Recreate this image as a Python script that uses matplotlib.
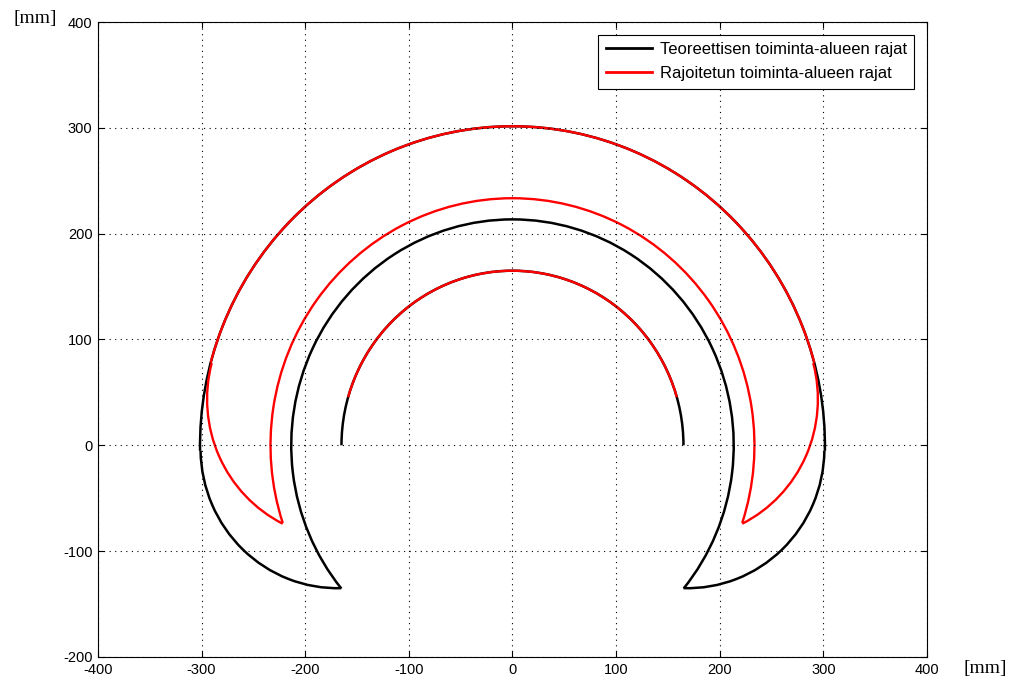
import matplotlib
matplotlib.use('Agg')
import matplotlib.pyplot as plt
from matplotlib.patches import Arc
from matplotlib.lines import Line2D

# arc boundaries: centre x, centre y, radius, start angle, end angle (deg)
black_cx = [0, 0, 0, -169, 169]
black_cy = [0, 0, 0, -3, -3]
black_r = [301.5, 165, 213.5, 132, 132]
black_a1 = [-1, 0, -39.3, 181, 268.3]
black_a2 = [181, 180, 219.3, 271.7, 359]

red_cx = [0, 0, 0, -163.2, 163.2]
red_cy = [0, 0, 0, 43.7, 43.7]
red_r = [301.5, 165, 233.5, 131.5, 131.5]
red_a1 = [15, 16, -18.3, 165, 296.4]
red_a2 = [165, 164, 198.3, 243.6, 375]

labels = ['Teoreettisen toiminta-alueen rajat', 'Rajoitetun toiminta-alueen rajat']
xticks = list(range(-400, 401, 100))
yticks = list(range(-200, 401, 100))

plt.rcParams['font.family'] = ['Liberation Sans', 'DejaVu Sans']
plt.rcParams['axes.unicode_minus'] = False

fig = plt.figure(figsize=(10.12, 6.82), dpi=100)
ax = fig.add_axes([0.0968, 0.0367, 0.8192, 0.931])

for cx, cy, r, a1, a2 in zip(black_cx, black_cy, black_r, black_a1, black_a2):
    ax.add_patch(Arc((cx, cy), 2 * r, 2 * r, theta1=a1, theta2=a2, color='black', lw=1.8))
for cx, cy, r, a1, a2 in zip(red_cx, red_cy, red_r, red_a1, red_a2):
    ax.add_patch(Arc((cx, cy), 2 * r, 2 * r, theta1=a1, theta2=a2, color='red', lw=1.7))

ax.set_xlim(-400, 400)
ax.set_ylim(-200, 400)
ax.set_xticks(xticks)
ax.set_yticks(yticks)
ax.tick_params(direction='in', top=True, right=True, length=4, labelsize=10.5, pad=4)
ax.grid(True, linestyle=(0, (1, 4)), color='black', lw=0.8)
for s in ax.spines.values():
    s.set_linewidth(0.8)

handles = [Line2D([], [], color='black', lw=2), Line2D([], [], color='red', lw=2)]
leg = ax.legend(handles, labels, loc='upper right', fontsize=12, fancybox=False,
                edgecolor='black', framealpha=1, borderaxespad=0.75, handlelength=2.8,
                handletextpad=0.45, labelspacing=0.55, borderpad=0.45)
leg.get_frame().set_linewidth(0.8)

fig.text(35 / 1012, 1 - 18 / 682, '[mm]', family='Liberation Serif', fontsize=14,
         ha='center', va='center')
fig.text(985 / 1012, 1 - 669 / 682, '[mm]', family='Liberation Serif', fontsize=14,
         ha='center', va='center')

fig.savefig('out.png', dpi=100, facecolor='white')
